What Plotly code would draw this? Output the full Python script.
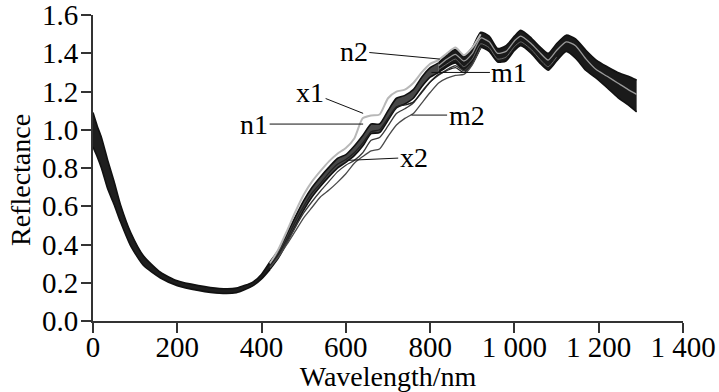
import plotly.graph_objects as go

# ---------------- data ----------------
wl = [0, 10, 20, 35, 50, 65, 90, 120, 160, 200,
      250, 300, 340, 380, 400,
      420, 440, 460, 480, 500,
      520, 540, 560, 580, 600,
      620, 640, 660, 680, 700,
      720, 740, 760, 780, 800,
      820, 840, 860, 880, 900,
      920, 940, 960, 980, 1000,
      1015, 1040, 1060, 1080, 1100,
      1123, 1145, 1170, 1194, 1220,
      1245, 1270, 1290]

band_upper = [1.09, 1.02, 0.96, 0.84, 0.73, 0.61, 0.46, 0.34, 0.255, 0.21,
              0.185, 0.17, 0.172, 0.205, 0.245,
              0.31, 0.37, 0.455, 0.545, 0.63,
              0.70, 0.755, 0.805, 0.85, 0.87,
              0.915, 0.97, 1.03, 1.03, 1.10,
              1.165, 1.18, 1.21, 1.275, 1.325,
              1.35, 1.395, 1.42, 1.385, 1.43,
              1.51, 1.49, 1.425, 1.44, 1.49,
              1.52, 1.48, 1.435, 1.40, 1.45,
              1.495, 1.475, 1.415, 1.365, 1.33,
              1.30, 1.28, 1.26]

band_lower = [0.91, 0.86, 0.80, 0.69, 0.61, 0.52, 0.39, 0.29, 0.225, 0.185,
              0.16, 0.145, 0.148, 0.185, 0.22,
              0.27, 0.33, 0.41, 0.495, 0.58,
              0.65, 0.705, 0.755, 0.80, 0.83,
              0.865, 0.915, 0.98, 0.985, 1.05,
              1.115, 1.135, 1.165, 1.225, 1.275,
              1.30, 1.33, 1.35, 1.31, 1.35,
              1.43, 1.41, 1.355, 1.36, 1.415,
              1.44, 1.40, 1.35, 1.312, 1.36,
              1.41, 1.375, 1.31, 1.27, 1.22,
              1.17, 1.13, 1.094]

wl_rise = [420, 440, 460, 480, 500, 520, 540, 560, 580, 600, 620, 640, 660,
           680, 700, 720, 740, 760, 780, 800, 820, 840, 860, 880, 900, 920]

x1 = [0.30, 0.375, 0.47, 0.57, 0.66, 0.73, 0.785, 0.835, 0.875, 0.905, 0.955, 1.06, 1.075,
      1.08, 1.165, 1.20, 1.21, 1.245, 1.30, 1.345, 1.365, 1.40, 1.43, 1.39, 1.43, 1.50]
x2 = [0.28, 0.335, 0.41, 0.49, 0.565, 0.625, 0.68, 0.73, 0.78, 0.815, 0.84, 0.88, 0.945,
      0.96, 1.02, 1.085, 1.11, 1.14, 1.20, 1.25, 1.285, 1.315, 1.335, 1.31, 1.35, 1.43]
m1 = [0.29, 0.35, 0.43, 0.52, 0.60, 0.67, 0.72, 0.775, 0.82, 0.845, 0.88, 0.93, 0.99,
      1.0, 1.06, 1.12, 1.13, 1.145, 1.195, 1.25, 1.29, 1.31, 1.325, 1.30, 1.345, 1.43]
m2 = [0.28, 0.335, 0.40, 0.47, 0.54, 0.595, 0.65, 0.685, 0.725, 0.77, 0.825, 0.86, 0.89,
      0.90, 0.965, 1.025, 1.06, 1.085, 1.14, 1.195, 1.245, 1.27, 1.285, 1.29, 1.34, 1.43]

wl_top = [820, 840, 860, 880, 900, 920, 940, 960, 980, 1000, 1015, 1040, 1060,
          1080, 1100, 1123, 1145, 1170, 1194, 1220, 1245, 1270, 1290]
g1 = [1.335, 1.37, 1.395, 1.36, 1.40, 1.48, 1.46, 1.40, 1.41, 1.465, 1.49, 1.45, 1.405,
      1.365, 1.415, 1.46, 1.44, 1.37, 1.315, 1.28, 1.245, 1.21, 1.185]
g2 = [1.315, 1.345, 1.37, 1.33, 1.37, 1.45, 1.43, 1.37, 1.38, 1.435, 1.46, 1.42, 1.37,
      1.33, 1.38]

labels = ["n2", "m1", "x1", "n1", "m2", "x2"]
label_x = [823, 803, 641, 641, 756, 602]
label_y = [1.37, 1.30, 1.086, 1.03, 1.077, 0.84]

x_tick_vals = [0, 200, 400, 600, 800, 1000, 1200, 1400]
x_tick_text = ["0", "200", "400", "600", "800", "1 000", "1 200", "1 400"]
y_tick_vals = [0.0, 0.2, 0.4, 0.6, 0.8, 1.0, 1.2, 1.4, 1.6]

# ---------------- figure ----------------
FONT = "Liberation Serif, Times New Roman, serif"
fig = go.Figure()

def ln(color, width):
    return dict(color=color, width=width, shape="spline", smoothing=0.6)

# main bundle of spectra drawn as a band, in three pieces of different density
segments = [(0, 16, "#1e1e1e"), (15, 36, "#474747"), (35, len(wl), "#1a1a1a")]
for a, b, fc in segments:
    fig.add_trace(go.Scatter(x=wl[a:b], y=band_lower[a:b], mode="lines",
                             line=ln("#111111", 1.6), hoverinfo="skip", showlegend=False))
    fig.add_trace(go.Scatter(x=wl[a:b], y=band_upper[a:b], mode="lines",
                             line=ln("#111111", 1.6), fill="tonexty", fillcolor=fc,
                             hoverinfo="skip", showlegend=False))

fig.add_trace(go.Scatter(x=wl_rise, y=x1, mode="lines", line=ln("#b8b8b8", 2),
                         hoverinfo="skip", showlegend=False))
fig.add_trace(go.Scatter(x=wl_rise, y=x2, mode="lines", line=ln("#3a3a3a", 1.3),
                         hoverinfo="skip", showlegend=False))
fig.add_trace(go.Scatter(x=wl_rise, y=m1, mode="lines", line=ln("#222222", 1.3),
                         hoverinfo="skip", showlegend=False))
fig.add_trace(go.Scatter(x=wl_rise, y=m2, mode="lines", line=ln("#4a4a4a", 1.3),
                         hoverinfo="skip", showlegend=False))
fig.add_trace(go.Scatter(x=wl_top, y=g1, mode="lines", line=ln("#9a9a9a", 1.3),
                         hoverinfo="skip", showlegend=False))
fig.add_trace(go.Scatter(x=wl_top[:len(g2)], y=g2, mode="lines", line=ln("#666666", 1.0),
                         hoverinfo="skip", showlegend=False))

offsets = {"n2": (-86, -8), "m1": (78, 0), "x1": (-53, -21),
           "n1": (-109, 0), "m2": (55, 0), "x2": (67, -3)}
for lab, xv, yv in zip(labels, label_x, label_y):
    ax, ay = offsets[lab]
    fig.add_annotation(x=xv, y=yv, text=lab, showarrow=True, arrowhead=0,
                       arrowwidth=1, arrowcolor="#111111", standoff=0,
                       ax=ax, ay=ay, font=dict(family=FONT, size=28, color="black"))

# y axis title (placed to match the reference's slightly low position)
fig.add_annotation(text="Reflectance", textangle=-90, xref="paper", yref="paper",
                   x=0, y=0.5, xanchor="center", yanchor="middle",
                   xshift=-73, yshift=-12, showarrow=False,
                   font=dict(family=FONT, size=28, color="black"))

axis_common = dict(showline=True, linecolor="#333333", linewidth=2,
                   ticks="outside", ticklen=10, tickwidth=2, tickcolor="#333333",
                   showgrid=False, zeroline=False, automargin=False,
                   ticklabeloverflow="allow",
                   tickfont=dict(family=FONT, size=29, color="black"))

fig.update_xaxes(range=[0, 1400], tickvals=x_tick_vals, ticktext=x_tick_text,
                 ticklabelstandoff=-11,
                 title=dict(text="Wavelength/nm", font=dict(family=FONT, size=28, color="black"),
                            standoff=0),
                 **axis_common)
fig.update_yaxes(range=[0, 1.6005], tickvals=y_tick_vals, tickformat=".1f",
                 ticklabelstandoff=-3,
                 **axis_common)

fig.update_layout(width=719, height=392, margin=dict(l=93, r=36, t=15, b=71),
                  plot_bgcolor="white", paper_bgcolor="white", showlegend=False)

fig.write_html("out.html", config={"displayModeBar": False},
               post_script="document.body.style.margin='0px';")
